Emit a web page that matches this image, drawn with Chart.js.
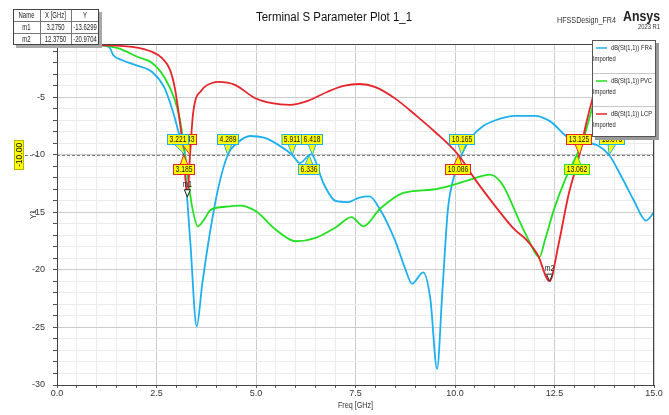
<!DOCTYPE html>
<html>
<head>
<meta charset="utf-8">
<title>Terminal S Parameter Plot 1_1</title>
<script src="https://cdn.jsdelivr.net/npm/chart.js@4.4.1/dist/chart.umd.min.js"></script>
<style>
  html, body { margin: 0; padding: 0; background: #fff; }
  canvas { display: block; }
</style>
</head>
<body>
<canvas id="plot" width="669" height="415"></canvas>
<script>
// values (Freq in GHz, dB(St(1,1)))
const fr4Freq = [0, 0.6, 1.2, 1.33, 1.41, 1.63, 1.96, 2.39, 2.7, 2.9, 3.04, 3.18, 3.35, 3.51, 3.65, 3.85, 4.05, 4.289, 4.55, 4.85, 5.2, 5.55, 5.911, 6.1, 6.336, 6.38, 6.418, 6.7, 7.0, 7.3, 7.6, 7.85, 8.11, 8.49, 8.74, 8.92, 9.2, 9.38, 9.55, 9.68, 9.82, 9.95, 10.165, 10.4, 10.7, 11.0, 11.5, 12.0, 12.4, 12.76, 13.0, 13.3, 13.6, 13.873, 14.2, 14.5, 14.8, 15.0];
const fr4Db   = [-0.45, -0.45, -0.5, -0.7, -1.3, -1.74, -2.17, -2.78, -4.17, -6.09, -7.83, -10, -17.6, -24.9, -21.2, -16.6, -12.9, -10, -8.9, -8.35, -8.5, -9.1, -10, -10.7, -10, -9.95, -10, -12.5, -14.0, -14.1, -13.7, -13.6, -14.7, -17.4, -19.8, -21.2, -20.2, -22.5, -28.6, -22, -14.8, -12.2, -10, -8.5, -7.5, -7.0, -6.6, -6.6, -7.1, -8.26, -8.85, -8.95, -9.2, -10, -12, -14, -15.7, -15.0];

const pvcFreq = [0, 1.0, 1.53, 2.03, 2.39, 2.71, 2.96, 3.09, 3.221, 3.38, 3.54, 3.7, 3.85, 4.22, 4.6, 5.0, 5.5, 6.0, 6.5, 7.0, 7.4, 7.7, 8.11, 8.7, 9.45, 9.95, 10.33, 10.88, 11.2, 11.6, 11.85, 12.12, 12.26, 12.5, 12.76, 13.062, 13.2, 13.4, 13.6];
const pvcDb   = [-0.45, -0.45, -0.7, -1.48, -2.0, -3.3, -5.2, -6.96, -10, -14.2, -16.2, -15.6, -14.8, -14.5, -14.4, -14.9, -16.5, -17.5, -17.2, -16.3, -15.4, -16.2, -14.7, -13.3, -13.0, -12.6, -12.2, -11.7, -12.6, -15.6, -17.4, -18.9, -17.4, -14.6, -12.2, -10, -8.9, -6.5, -4];

const lcpFreq = [0, 1.0, 1.5, 1.88, 2.39, 2.64, 2.84, 2.96, 3.07, 3.185, 3.275, 3.343, 3.42, 3.64, 3.9, 4.05, 4.47, 4.97, 5.4, 5.85, 6.3, 6.8, 7.2, 7.6, 8.0, 8.5, 9.0, 9.5, 10.086, 10.5, 11.0, 11.5, 11.8, 12.08, 12.375, 12.6, 12.85, 13.125, 13.3, 13.5];
const lcpDb   = [-0.45, -0.45, -0.5, -0.6, -1.04, -1.57, -2.6, -4.17, -6.7, -10, -13.63, -10, -6.35, -4.35, -3.74, -3.65, -3.9, -5.04, -5.5, -5.65, -5.3, -4.5, -4.0, -3.83, -4.1, -5.1, -6.5, -8.0, -10, -12.1, -14.4, -16.5, -17.4, -18.7, -20.97, -17.8, -13.5, -10, -7.2, -4.5];

const xTicks = [0, 2.5, 5, 7.5, 10, 12.5, 15];
const yTicks = [-30, -25, -20, -15, -10, -5];
const refLevel = -10;

// marker table
const markerNames = ['m1', 'm2'];
const markerFreq = [3.275, 12.375];
const markerDb = [-13.6299, -20.9704];

// -10 dB crossing labels
const cutFreqs  = [3.343, 3.221, 4.289, 5.911, 6.418, 10.165, 13.125, 13.873, 3.185, 6.336, 10.086, 13.062];
const cutTraces = ['LCP', 'FR4', 'FR4', 'FR4', 'FR4', 'FR4', 'LCP', 'FR4', 'LCP', 'FR4', 'LCP', 'PVC'];
const cutBelow  = [false, false, false, false, false, false, false, false, true, true, true, true];
const cutNudge  = { 3.343: -4, 3.221: -7, 13.873: 3 };

const traceNames = ['FR4', 'PVC', 'LCP'];
const colors = { FR4: '#1cb0ee', PVC: '#22e022', LCP: '#e6242a' };

const FONT = '"Liberation Sans", Arial, sans-serif';
const NARROW = "'Liberation Sans Narrow', 'Liberation Sans', Arial";

const pts = (fs, ds) => fs.map((f, i) => ({ x: f, y: ds[i] }));
const isTick = (v, list) => list.some(t => Math.abs(t - v) < 1e-6);

function txt(ctx, s, x, y, size, o = {}) {
  ctx.save();
  ctx.font = (o.bold ? 'bold ' : '') + size + 'px ' + FONT;
  ctx.fillStyle = o.color || '#222';
  ctx.textBaseline = 'middle';
  ctx.textAlign = o.align || 'left';
  let sx = o.sx || 1;
  if (o.width) sx = o.width / ctx.measureText(s).width;
  ctx.translate(x, y);
  if (o.rot) ctx.rotate(o.rot);
  ctx.scale(sx, 1);
  ctx.fillText(s, 0, 0);
  ctx.restore();
}

function cutLabel(ctx, px, py, text, color, below, nudge) {
  ctx.save();
  ctx.font = '9px ' + FONT;
  const w = Math.round(ctx.measureText(text).width * 0.75) + 5;
  const h = 11;
  const cx = Math.round(px + nudge);
  const by = below ? Math.round(py) + 9 : Math.round(py) - 21;
  const baseY = below ? by + 1 : by + h - 1;
  ctx.fillStyle = '#ffff00';
  ctx.strokeStyle = color;
  ctx.lineWidth = 1;
  ctx.beginPath();
  ctx.moveTo(cx - 4, baseY); ctx.lineTo(px, py); ctx.lineTo(cx + 4, baseY); ctx.closePath();
  ctx.fill(); ctx.stroke();
  ctx.fillRect(cx - w / 2, by, w, h);
  ctx.strokeRect(cx - w / 2 + 0.5, by + 0.5, w - 1, h - 1);
  ctx.restore();
  txt(ctx, text, cx, by + h / 2 + 0.5, 9, { sx: 0.75, align: 'center', color: '#111' });
}

function drawLegend(ctx) {
  const L = 592, T = 40, W = 64, H = 97;
  ctx.fillStyle = '#9a9a9a'; ctx.fillRect(L + 3, T + 3, W, H);
  ctx.fillStyle = '#fff'; ctx.fillRect(L, T, W, H);
  ctx.strokeStyle = '#555'; ctx.lineWidth = 1;
  ctx.strokeRect(L + 0.5, T + 0.5, W - 1, H - 1);
  traceNames.forEach((n, i) => {
    const y0 = T + i * 33;
    if (i) {
      ctx.strokeStyle = '#c8c8c8';
      ctx.beginPath(); ctx.moveTo(L + 1, y0 + 0.5); ctx.lineTo(L + W - 1, y0 + 0.5); ctx.stroke();
    }
    ctx.strokeStyle = colors[n]; ctx.lineWidth = 1.5;
    ctx.beginPath(); ctx.moveTo(L + 4, y0 + 8); ctx.lineTo(L + 15, y0 + 8); ctx.stroke();
    ctx.lineWidth = 1;
    txt(ctx, 'dB(St(1,1))', L + 19, y0 + 8, 8, { sx: 0.72 });
    txt(ctx, n, L + W - 4, y0 + 8, 8, { sx: 0.72, align: 'right' });
    txt(ctx, 'Imported', L + 1, y0 + 19, 8, { sx: 0.72 });
  });
}

function drawTable(ctx) {
  const cols = [13, 40, 71, 99], rows = [9, 21, 33, 45];
  const W = cols[3] - cols[0], H = rows[3] - rows[0];
  ctx.fillStyle = '#a8a8a8'; ctx.fillRect(cols[0] + 3, rows[0] + 3, W, H);
  ctx.fillStyle = '#fff'; ctx.fillRect(cols[0], rows[0], W, H);
  ctx.strokeStyle = '#777'; ctx.lineWidth = 1;
  ctx.beginPath();
  cols.slice(1, 3).forEach(c => { ctx.moveTo(c + 0.5, rows[0]); ctx.lineTo(c + 0.5, rows[3]); });
  rows.slice(1, 3).forEach(r => { ctx.moveTo(cols[0], r + 0.5); ctx.lineTo(cols[3], r + 0.5); });
  ctx.stroke();
  ctx.strokeStyle = '#444';
  ctx.strokeRect(cols[0] + 0.5, rows[0] + 0.5, W - 1, H - 1);
  const cx = i => (cols[i] + cols[i + 1]) / 2;
  const head = ['Name', 'X [GHz]', 'Y'];
  head.forEach((s, i) => txt(ctx, s, cx(i), rows[0] + 6.5, 8.5, { sx: 0.7, align: 'center' }));
  markerNames.forEach((m, r) => {
    const y = rows[r + 1] + 6.5;
    txt(ctx, m, cx(0), y, 8.5, { sx: 0.7, align: 'center' });
    txt(ctx, markerFreq[r].toFixed(4), cx(1), y, 8.5, { sx: 0.7, align: 'center' });
    txt(ctx, markerDb[r].toFixed(4), cx(2), y, 8.5, { sx: 0.7, align: 'center' });
  });
}

const overlay = {
  id: 'overlay',
  beforeDatasetsDraw(chart) {
    const { ctx, chartArea: a, scales: { y } } = chart;
    const yy = Math.round(y.getPixelForValue(refLevel)) + 0.5;
    ctx.save();
    ctx.strokeStyle = '#7a7a7a'; ctx.lineWidth = 1; ctx.setLineDash([3, 2]);
    ctx.beginPath();
    ctx.moveTo(25, yy); ctx.lineTo(37, yy);
    ctx.moveTo(a.left, yy); ctx.lineTo(a.right, yy);
    ctx.stroke();
    ctx.restore();
  },
  afterDatasetsDraw(chart) {
    const { ctx, chartArea: a, scales: { x, y } } = chart;
    ctx.save();
    // frame
    ctx.strokeStyle = '#444'; ctx.lineWidth = 1;
    ctx.strokeRect(a.left + 0.5, a.top + 0.5, a.right - a.left - 1, a.bottom - a.top);
    // m1 / m2 markers
    markerNames.forEach((m, i) => {
      const px = x.getPixelForValue(markerFreq[i]), py = y.getPixelForValue(markerDb[i]);
      ctx.strokeStyle = '#222'; ctx.fillStyle = '#fff';
      ctx.beginPath(); ctx.moveTo(px, py); ctx.lineTo(px - 3, py - 7); ctx.lineTo(px + 3, py - 7); ctx.closePath();
      ctx.fill(); ctx.stroke();
      txt(ctx, m, px, py - 12, 8.5, { sx: 0.8, align: 'center', color: '#222' });
    });
    // crossing labels
    cutFreqs.forEach((f, i) => {
      const px = x.getPixelForValue(f), py = y.getPixelForValue(refLevel);
      cutLabel(ctx, px, py, f.toFixed(3), colors[cutTraces[i]], cutBelow[i], cutNudge[f] || 0);
    });
    ctx.restore();
  },
  afterDraw(chart) {
    const { ctx, chartArea: a, scales: { y } } = chart;
    ctx.save();
    drawLegend(ctx);
    drawTable(ctx);
    // -10.00 tag on the y axis
    const yy = y.getPixelForValue(refLevel);
    ctx.fillStyle = '#ffff00'; ctx.fillRect(14, yy - 15, 10, 30);
    ctx.strokeStyle = '#b5b500'; ctx.strokeRect(14.5, yy - 14.5, 9, 29);
    txt(ctx, refLevel.toFixed(2), 19.5, yy, 9, { rot: -Math.PI / 2, align: 'center', sx: 0.95, color: '#111' });
    // titles
    txt(ctx, 'Terminal S Parameter Plot 1_1', 334, 18, 12.5, { width: 156, align: 'center', color: '#111' });
    txt(ctx, 'HFSSDesign_FR4', 557, 20, 9.5, { width: 59, color: '#333' });
    txt(ctx, 'Ansys', 623, 17, 15, { width: 37, bold: true, color: '#222' });
    txt(ctx, '2023 R1', 638, 27, 6.5, { width: 22, color: '#333' });
    txt(ctx, 'Y1', 34, (a.top + a.bottom) / 2, 9, { rot: -Math.PI / 2, align: 'center', sx: 0.8, color: '#333' });
    txt(ctx, 'Freq [GHz]', (a.left + a.right) / 2, 406, 9, { sx: 0.8, align: 'center', color: '#333' });
    ctx.restore();
  }
};

const majorGrid = '#cccccc', minorGrid = '#ececec';

new Chart(document.getElementById('plot'), {
  type: 'line',
  data: {
    datasets: [
      { label: 'dB(St(1,1)) FR4', data: pts(fr4Freq, fr4Db), borderColor: colors.FR4, order: 2 },
      { label: 'dB(St(1,1)) PVC', data: pts(pvcFreq, pvcDb), borderColor: colors.PVC, order: 1 },
      { label: 'dB(St(1,1)) LCP', data: pts(lcpFreq, lcpDb), borderColor: colors.LCP, order: 0 }
    ]
  },
  options: {
    responsive: false,
    animation: false,
    layout: { padding: { top: 44, right: 15, left: 0, bottom: 0 } },
    elements: {
      point: { radius: 0 },
      line: { borderWidth: 1.8, cubicInterpolationMode: 'monotone', fill: false }
    },
    plugins: { legend: { display: false }, tooltip: { enabled: false } },
    scales: {
      x: {
        type: 'linear', min: 0, max: 15,
        afterBuildTicks: s => { s.ticks = Array.from({ length: 31 }, (_, i) => ({ value: i * 0.5 })); },
        afterFit: s => { s.height = 30; },
        ticks: {
          autoSkip: false, maxRotation: 0, padding: 0, color: '#333',
          font: { family: NARROW, size: 9 },
          callback: v => isTick(v, xTicks) ? v.toFixed(1) : ''
        },
        grid: {
          color: c => isTick(c.tick.value, xTicks) ? majorGrid : minorGrid,
          tickColor: '#555', tickLength: 3
        },
        border: { color: '#444', width: 1 }
      },
      y: {
        type: 'linear', min: -30, max: -0.35,
        afterBuildTicks: s => { s.ticks = Array.from({ length: 30 }, (_, i) => ({ value: -30 + i })); },
        afterFit: s => { s.width = 57; },
        ticks: {
          autoSkip: false, padding: 8, color: '#333',
          font: { family: NARROW, size: 9 },
          callback: v => isTick(v, yTicks) ? String(v) : ''
        },
        grid: {
          color: c => isTick(c.tick.value, yTicks) ? majorGrid : minorGrid,
          tickColor: '#555', tickLength: 4
        },
        border: { color: '#444', width: 1 }
      }
    }
  },
  plugins: [overlay]
});
</script>
</body>
</html>
